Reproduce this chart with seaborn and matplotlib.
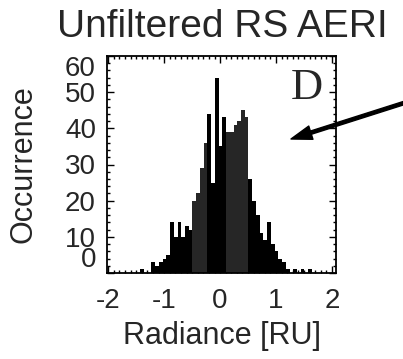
import numpy as np
import pandas as pd
import matplotlib
matplotlib.use("Agg")
import matplotlib.pyplot as plt
from matplotlib.ticker import MultipleLocator, FixedLocator
import seaborn as sns

# Histogram of radiance differences (counts per bin)
first_edge = -1.427
bin_width = 1 / 15
counts = [1, 0, 0, 3, 2, 3, 4, 5, 14, 10, 14, 10, 13, 12, 20, 22, 29, 36,
          44, 25, 54, 35, 43, 39, 39, 41, 42, 45, 43, 26, 20, 16, 11, 9, 14,
          8, 6, 4, 3, 1, 0, 1, 0, 1, 0, 1]
x_ticks = [-2, -1, 0, 1, 2]
y_ticks = [0, 10, 20, 30, 40, 50, 60]

title = "Unfiltered RS AERI"
xlabel = "Radiance [RU]"
ylabel = "Occurrence"
panel_letter = "D"

edges = first_edge + np.arange(len(counts) + 1) * bin_width
centers = edges[:-1] + bin_width / 2
df = pd.DataFrame({"radiance": centers, "count": counts})

sns.set_style("ticks")
plt.rcParams["font.family"] = ["Liberation Sans", "DejaVu Sans"]

fig = plt.figure(figsize=(4.03, 3.59), dpi=100)
W, H = 403, 359
ax = fig.add_axes([107 / W, 1 - 273 / H, 229 / W, 217 / H])

sns.histplot(data=df, x="radiance", weights="count", bins=[float(e) for e in edges],
             ax=ax, color="black", alpha=1, linewidth=0, element="bars",
             legend=False)

# two darker-grey bands inside the distribution
shaded = list(range(14, 18)) + list(range(23, 29))
for i, p in enumerate(ax.patches):
    p.set_facecolor("#262626" if i in shaded else "black")

ax.set_xlim(-2.02, 2.07)
ax.set_ylim(0, 60)
ax.xaxis.set_major_locator(FixedLocator(x_ticks))
ax.yaxis.set_major_locator(FixedLocator(y_ticks))
ax.xaxis.set_minor_locator(MultipleLocator(0.1))
ax.yaxis.set_minor_locator(MultipleLocator(2))
ax.set_xticklabels([str(v) for v in x_ticks])
ax.set_yticklabels([str(v) for v in y_ticks])

ax.tick_params(which="both", direction="in", top=True, right=True,
               width=1.0, color="black")
ax.tick_params(which="major", length=5)
ax.tick_params(which="minor", length=2.5)
ax.tick_params(axis="x", which="major", labelsize=20, pad=11)
ax.tick_params(axis="y", which="major", labelsize=20, pad=8)
for s in ax.spines.values():
    s.set_linewidth(1.3)
    s.set_color("black")

# keep end labels inside the frame height
yt = ax.yaxis.get_major_ticks()
yt[0].label1.set_verticalalignment("bottom")
yt[-1].label1.set_verticalalignment("top")

ax.set_xlabel(xlabel, fontsize=22)
ax.set_ylabel(ylabel, fontsize=22)
ax.xaxis.set_label_coords(0.5, -0.22)
ax.yaxis.set_label_coords(-0.30, 0.5)

fig.text(222 / W, 1 - 37 / H, title, fontsize=28, ha="center", va="baseline")

fig.text(307 / W, 1 - 88 / H, panel_letter, fontsize=32, ha="center",
         va="center", family=["Liberation Serif", "DejaVu Serif"])

ax.annotate("", xy=(291, H - 139), xycoords="figure pixels",
            xytext=(404, H - 103), textcoords="figure pixels",
            arrowprops=dict(width=2.4, headwidth=10, headlength=15,
                            facecolor="black", edgecolor="black", shrink=0),
            annotation_clip=False)

fig.savefig("out.png", dpi=100)
